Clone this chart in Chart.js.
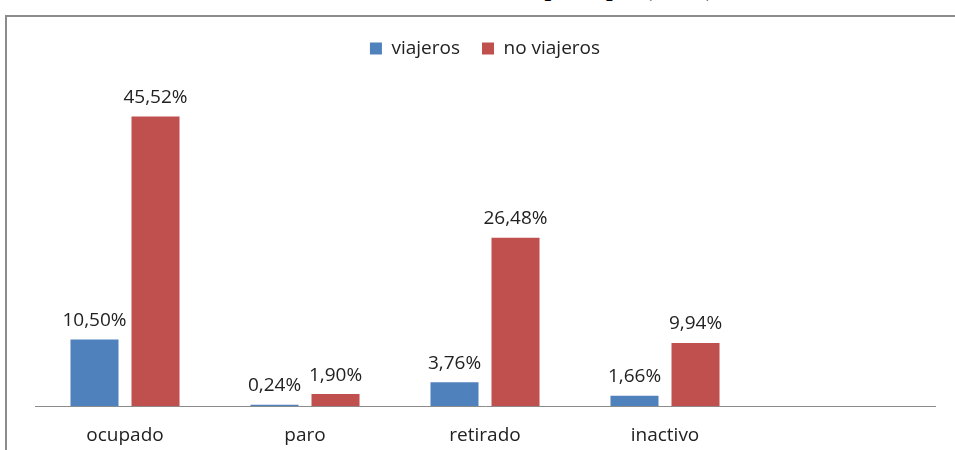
<!DOCTYPE html>
<html lang="es">
<head>
    <meta charset="UTF-8">
    <title>Sustentador principal</title>
    <script src="https://cdn.jsdelivr.net/npm/chart.js"></script>
    <style>
        body { margin: 0; background: #fff; width: 955px; height: 450px; overflow: hidden; position: relative; }
        .titulo { position: absolute; top: -25px; left: 0; width: 915px; text-align: center;
            font: bold 24px "Liberation Serif", "DejaVu Serif", serif; color: #000; white-space: nowrap; }
        .marco { position: absolute; left: 5px; top: 15px; width: 980px; height: 480px;
            border-left: 2px solid #8c8c8c; border-top: 2px solid #8c8c8c; }
        .grafico { position: absolute; left: 7px; top: 17px; width: 948px; height: 443px; }
    </style>
</head>
<body>
    <div class="titulo">Situación laboral del sustentador principal (en %)</div>
    <div class="marco"></div>
    <div class="grafico">
        <canvas id="graficoSituacion"></canvas>
    </div>
<script>
    // datos
    var categorias = ['ocupado', 'paro', 'retirado', 'inactivo', '']
    var viajeros = [10.50, 0.24, 3.76, 1.66, null]
    var noViajeros = [45.52, 1.90, 26.48, 9.94, null]

    var fuente = '"Open Sans", sans-serif'

    // etiquetas de valor encima de cada barra
    const etiquetas = {
        id: 'etiquetas',
        afterDatasetsDraw(chart) {
            const ctx = chart.ctx
            ctx.save()
            ctx.font = '19px ' + fuente
            ctx.fillStyle = '#222'
            ctx.textAlign = 'center'
            ctx.textBaseline = 'middle'
            chart.data.datasets.forEach((ds, i) => {
                chart.getDatasetMeta(i).data.forEach((bar, j) => {
                    if (ds.data[j] == null) return
                    var txt = ds.data[j].toFixed(2).replace('.', ',') + '%'
                    ctx.fillText(txt, bar.x, bar.y - 19)
                })
            })
            ctx.restore()
        }
    }

    // espacio extra debajo de la leyenda
    const espacioLeyenda = {
        id: 'espacioLeyenda',
        beforeInit(chart) {
            const fitOriginal = chart.legend.fit
            chart.legend.fit = function () {
                fitOriginal.bind(chart.legend)()
                this.height += 20
            }
        }
    }

    const ctx = document.getElementById('graficoSituacion').getContext('2d')
    const grafico = new Chart(ctx, {
        type: 'bar',
        data: {
            labels: categorias,
            datasets: [{
                label: 'viajeros',
                data: viajeros,
                backgroundColor: '#4f81bd',
                categoryPercentage: 0.678,
                barPercentage: 0.787
            }, {
                label: 'no viajeros',
                data: noViajeros,
                backgroundColor: '#c0504d',
                categoryPercentage: 0.678,
                barPercentage: 0.787
            }]
        },
        options: {
            responsive: true,
            maintainAspectRatio: false,
            animation: false,
            layout: {
                padding: { left: 28, right: 20, top: 0, bottom: 3 }
            },
            plugins: {
                legend: {
                    display: true,
                    position: 'top',
                    labels: {
                        boxWidth: 12,
                        boxHeight: 12,
                        padding: 22,
                        color: '#222',
                        font: { family: fuente, size: 19 }
                    }
                },
                tooltip: { enabled: false }
            },
            scales: {
                x: {
                    grid: { display: false },
                    border: { display: true, color: '#8c8c8c', width: 1 },
                    ticks: {
                        padding: 10,
                        color: '#222',
                        font: { family: fuente, size: 19 }
                    }
                },
                y: {
                    display: false,
                    min: 0,
                    max: 50
                }
            }
        },
        plugins: [etiquetas, espacioLeyenda]
    })
</script>
</body>
</html>
